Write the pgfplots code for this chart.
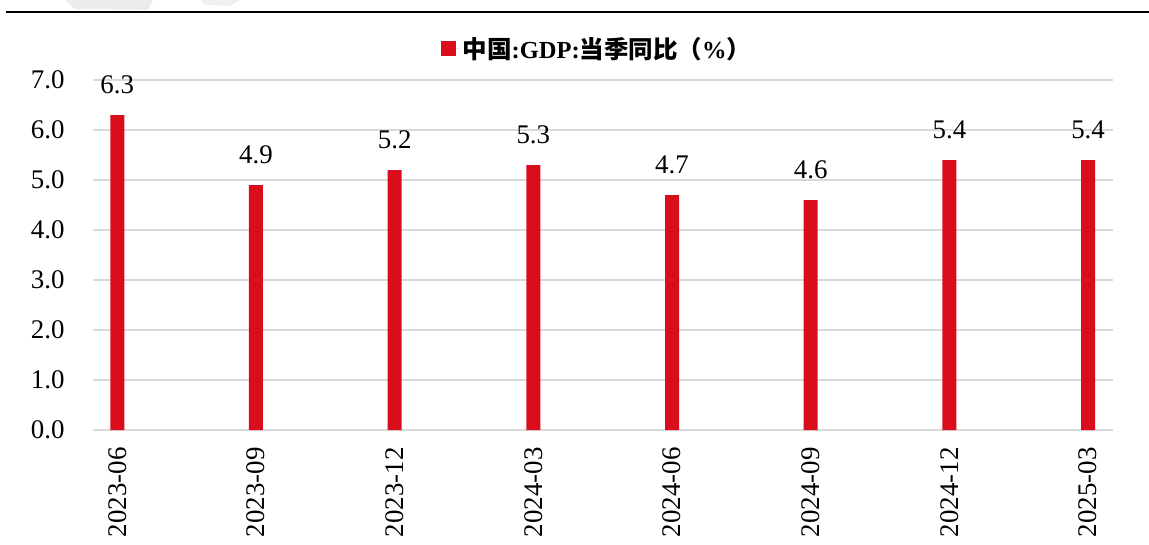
\documentclass[border=0pt]{standalone}
\usepackage{fontspec}
\setmainfont{Liberation Serif}
\newfontfamily\cjk{Noto Sans CJK SC}
\usepackage{pgfplots}
\pgfplotsset{compat=1.18}
\definecolor{barred}{RGB}{217,13,28}
\definecolor{gridgray}{RGB}{217,217,217}
\begin{document}
\begin{tikzpicture}
\useasboundingbox (0,0) rectangle (1149bp,545bp);
% faint watermark remains at the top
\fill[gray!15] (65bp,545bp) -- (153bp,545bp) -- (148bp,535bp) -- (75bp,536bp) -- cycle;
\fill[gray!12] (200bp,545bp) -- (240bp,545bp) -- (230bp,539bp) -- (205bp,540bp) -- cycle;
\draw[line width=2bp] (6bp,533bp) -- (1149bp,533bp);
\begin{axis}[
	at={(93bp,115bp)}, anchor=south west,
	scale only axis,
	width=1020bp, height=350bp,
	ybar, bar width=14bp,
	xmin=-0.175, xmax=7.18,
	ymin=0, ymax=7,
	xtick={0,...,7},
	xticklabels={2023-06,2023-09,2023-12,2024-03,2024-06,2024-09,2024-12,2025-03},
	ytick={0,1,...,7},
	axis line style={draw=none},
	axis x line*=bottom,
	x axis line style={draw=gridgray, line width=2bp},
	major tick length=0pt,
	ymajorgrids,
	major grid style={gridgray, line width=2bp},
	/pgf/number format/assume math mode=true,
	yticklabel={\pgfmathprintnumber[fixed,fixed zerofill,precision=1]{\tick}},
	ticklabel style={font=\fontsize{27}{27}\selectfont},
	yticklabel style={xshift=-25bp},
	xticklabel style={rotate=90, anchor=east, xshift=-14bp},
	clip=false,
	nodes near coords,
	nodes near coords style={font=\fontsize{27}{27}\selectfont, yshift=18bp,
		/pgf/number format/.cd, fixed, fixed zerofill, precision=1},
	legend style={at={(0.494,1.089)}, anchor=center, draw=none, fill=none,
		font=\fontsize{24.6}{24.6}\selectfont\bfseries, inner sep=0pt},
	legend image code/.code={\fill[barred] (0bp,-7.5bp) rectangle (15bp,7.5bp);
		\path (0bp,0bp) -- (20bp,0bp);},
]
\addplot[fill=barred, draw=none] coordinates {
	(0,6.3) (1,4.9) (2,5.2) (3,5.3) (4,4.7) (5,4.6) (6,5.4) (7,5.4)};
\addlegendentry{{\cjk 中国}:GDP:{\cjk 当季同比（}\%{\cjk ）}}
\end{axis}
\end{tikzpicture}
\end{document}
